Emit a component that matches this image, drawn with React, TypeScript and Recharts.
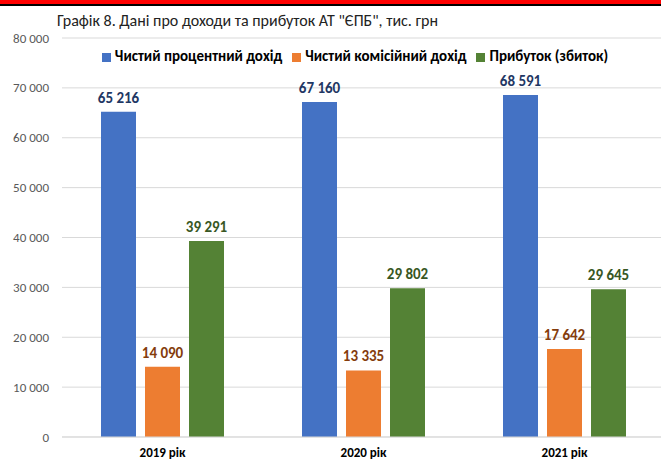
import { BarChart, Bar, XAxis, YAxis, CartesianGrid, Legend, LabelList } from "recharts";

const years = ["2019 рік", "2020 рік", "2021 рік"];
const interestIncome = [65216, 67160, 68591];
const commissionIncome = [14090, 13335, 17642];
const profit = [39291, 29802, 29645];
const yTicks = [0, 10000, 20000, 30000, 40000, 50000, 60000, 70000, 80000];
const seriesOrder = ["interest", "commission", "profit"];

const data = years.map((year, i) => ({
  year,
  interest: interestIncome[i],
  commission: commissionIncome[i],
  profit: profit[i],
}));

const font = "Calibri, Carlito, 'Liberation Sans', Arial, sans-serif";
const fmt = (v: number) => v.toLocaleString("en-US").replace(/,/g, " ");

const valueLabel = (color: string) => (props: any) => {
  const { x, y, width, value } = props;
  return (
    <text
      x={Number(x) + Number(width) / 2}
      y={Number(y) - 9}
      textAnchor="middle"
      fill={color}
      fontSize={15}
      fontWeight={700}
      fontFamily={font}
    >
      {fmt(Number(value))}
    </text>
  );
};

export default function App() {
  return (
    <div
      style={{
        position: "fixed",
        left: 0,
        top: 0,
        width: 661,
        height: 462,
        overflow: "hidden",
        background: "#fff",
        fontFamily: font,
      }}
    >
      <div style={{ position: "absolute", left: 0, top: 0, width: 661, height: 4, background: "#ff0000" }} />
      <div style={{ position: "absolute", left: 0, top: 4, width: 661, height: 2, background: "#000" }} />
      <div style={{ position: "absolute", left: 57, top: 11, fontSize: 16, color: "#222", whiteSpace: "nowrap" }}>
        Графік 8. Дані про доходи та прибуток АТ "ЄПБ", тис. грн
      </div>
      <BarChart
        width={670}
        height={462}
        data={data}
        margin={{ top: 20, right: 0, bottom: 0, left: 0 }}
        barGap={9}
        barSize={35}
        style={{ position: "absolute", left: 0, top: 0 }}
      >
        <CartesianGrid vertical={false} stroke="#d9d9d9" />
        <XAxis
          dataKey="year"
          height={25}
          axisLine={{ stroke: "#d9d9d9" }}
          tickLine={false}
          tickSize={0}
          tickMargin={11}
          padding={{ left: 0, right: 5 }}
          tick={{ fill: "#000", fontSize: 13, fontWeight: 700, fontFamily: font }}
        />
        <YAxis
          width={62}
          domain={[0, 80000]}
          ticks={yTicks}
          axisLine={false}
          tickLine={false}
          tickSize={0}
          tickMargin={13}
          tickFormatter={fmt}
          tick={{ fill: "#595959", fontSize: 13, fontFamily: font }}
        />
        <Legend
          verticalAlign="top"
          align="center"
          iconType="square"
          iconSize={9}
          itemSorter={(item: any) => seriesOrder.indexOf(item.dataKey)}
          wrapperStyle={{ top: 47, left: 50, width: 620, fontSize: 15, fontWeight: 700, fontFamily: font }}
          formatter={(value) => <span style={{ color: "#000" }}>{value}</span>}
        />
        <Bar dataKey="interest" name="Чистий процентний дохід" fill="#4472c4" isAnimationActive={false}>
          <LabelList dataKey="interest" content={valueLabel("#1f3864")} />
        </Bar>
        <Bar dataKey="commission" name="Чистий комісійний дохід" fill="#ed7d31" isAnimationActive={false}>
          <LabelList dataKey="commission" content={valueLabel("#843c0c")} />
        </Bar>
        <Bar dataKey="profit" name="Прибуток (збиток)" fill="#548235" isAnimationActive={false}>
          <LabelList dataKey="profit" content={valueLabel("#385723")} />
        </Bar>
      </BarChart>
    </div>
  );
}
